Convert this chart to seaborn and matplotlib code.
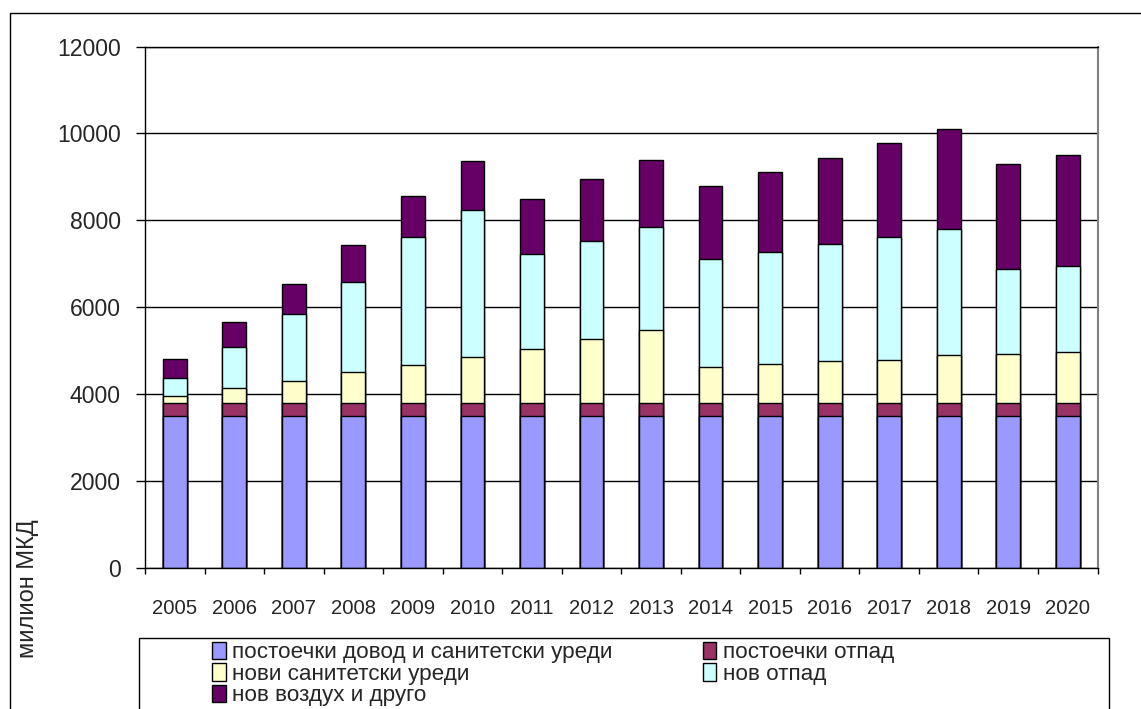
import numpy as np
import pandas as pd
import matplotlib
matplotlib.use("Agg")
import matplotlib.pyplot as plt
from matplotlib.patches import Patch, Rectangle
import seaborn as sns

years = [str(y) for y in range(2005, 2021)]
existing_supply = [3500] * 16
existing_waste = [300] * 16
new_sanitary = [160, 350, 510, 700, 860, 1055, 1245, 1475, 1670, 830, 900, 960, 990, 1090, 1120, 1180]
new_waste = [410, 930, 1540, 2090, 2960, 3375, 2185, 2245, 2380, 2480, 2570, 2700, 2830, 2920, 1965, 1970]
new_air = [430, 590, 680, 840, 930, 1130, 1260, 1420, 1540, 1680, 1840, 1970, 2160, 2290, 2415, 2550]

series_names = ["постоечки довод и санитетски уреди", "постоечки отпад",
                "нови санитетски уреди", "нов отпад", "нов воздух и друго"]
colors = ["#9999FF", "#993366", "#FFFFCC", "#CCFFFF", "#660066"]
y_ticks = [0, 2000, 4000, 6000, 8000, 10000, 12000]
y_label = "милион МКД"

sns.set_theme(style="white")
plt.rcParams['font.family'] = ['Liberation Sans', 'DejaVu Sans']

df = pd.DataFrame({"year": years, series_names[0]: existing_supply,
                   series_names[1]: existing_waste, series_names[2]: new_sanitary,
                   series_names[3]: new_waste, series_names[4]: new_air})
cum = df[series_names].cumsum(axis=1)

fig = plt.figure(figsize=(11.41, 7.09), dpi=100)
ax = fig.add_axes([145/1141, 1-568/709, (1097.5-145)/1141, (568-46.5)/709])

for name, col in reversed(list(zip(series_names, colors))):
    sns.barplot(x=df["year"], y=cum[name], color=col, saturation=1, width=0.4,
                edgecolor="black", linewidth=1.0, ax=ax)

ax.set_ylim(0, 12000)
ax.set_xlim(-0.5, 15.5)
ax.set_yticks(y_ticks)
ax.set_yticklabels([str(v) for v in y_ticks], fontsize=16.6)
ax.set_xticks(np.arange(-0.5, 16, 1))
ax.set_xticklabels([""] * 17)
ax.set_xticks(range(16), minor=True)
ax.set_xticklabels(years, minor=True, fontsize=14.6)
ax.tick_params(axis="x", which="major", length=4.5, width=1, color="black", direction="out", bottom=True)
ax.tick_params(axis="x", which="minor", length=0, pad=22, bottom=True)
ax.tick_params(axis="y", length=6.5, width=1, color="black", pad=11, left=True)
ax.set_xlabel("")
ax.set_ylabel("")
ax.yaxis.grid(True, color="black", linewidth=1)
ax.set_axisbelow(True)
for s in ["left", "bottom", "top"]:
    ax.spines[s].set_color("black")
    ax.spines[s].set_linewidth(1)
ax.spines["right"].set_color("#808080")
ax.spines["right"].set_linewidth(1.5)

fig.text(28/1141, 1-589/709, y_label, rotation=90, ha="center", va="center", fontsize=17)

# outer chart border
fig.add_artist(Rectangle((10/1141, -0.2), 2, 1.2 - 13/709, transform=fig.transFigure,
                         fill=False, edgecolor="black", linewidth=1))
# legend box
fig.add_artist(Rectangle((139/1141, -0.2), (1109-139)/1141, 0.2 + 1 - 637.7/709,
                         transform=fig.transFigure, fill=False, edgecolor="black", linewidth=1))

order = [0, 2, 4, 1, 3]
handles = [Patch(facecolor=colors[i], edgecolor="black", linewidth=1) for i in order]
labels = [series_names[i] for i in order]
fig.legend(handles, labels, loc="upper left", bbox_to_anchor=(212/1141, 1-642/709),
           ncol=2, frameon=False, fontsize=16.2, borderpad=0, borderaxespad=0,
           handlelength=0.6, handleheight=0.8, handletextpad=0.3, labelspacing=0.0,
           columnspacing=4.0)

fig.savefig("out.png", dpi=100)
